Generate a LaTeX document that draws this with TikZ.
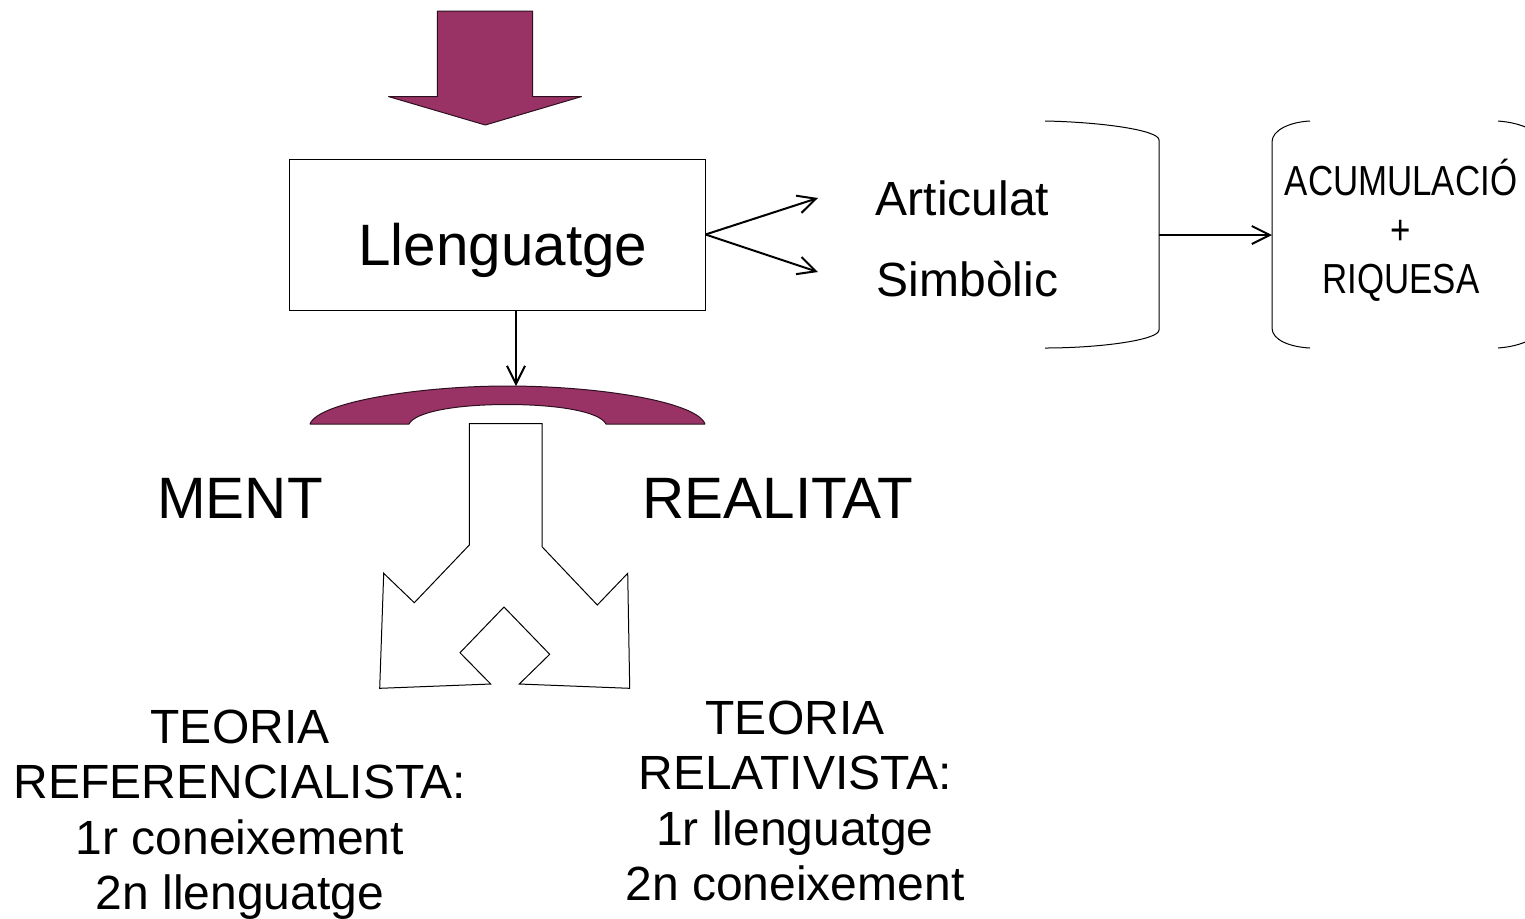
\documentclass[tikz,border=0pt]{standalone}
\usepackage{fontspec}
\setmainfont{Liberation Sans}
\newfontfamily\narrowfont[FakeStretch=0.83]{Liberation Sans}
\usepackage{xcolor}
\usetikzlibrary{arrows.meta}
\definecolor{plum}{HTML}{993366}

\begin{document}
\begin{tikzpicture}[x=0.5pt,y=-0.5pt,
                    line width=0.5pt,
                    main node/.style={align=center,inner sep=0pt,font=\fontsize{24}{27.75}\selectfont},
                    big node/.style={inner sep=0pt,font=\fontsize{29.2}{34}\selectfont},
                    narrow node/.style={align=center,inner sep=0pt,font=\narrowfont\fontsize{21}{24.5}\selectfont},
                    filled shape/.style={draw=black!70!plum,fill=plum,line join=bevel},
                    link/.style={-{Straight Barb[length=9pt,width=9pt]},line width=1pt}]

 \path[use as bounding box,clip] (0,0) rectangle (1525,918);

 % top arrow
 \draw[filled shape] (437.3,11) -- (532.7,11) -- (532.7,96.5) -- (581.7,96.5)
   -- (485.3,125) -- (388.3,96.5) -- (437.3,96.5) -- cycle;

 \node[draw,big node,minimum width=208pt,minimum height=75.5pt] (box) at (497,234.5) {\rule{0pt}{37pt}\hspace*{6pt}Llenguatge};

 \node[main node,anchor=base] (articulat) at (962.5,215) {Articulat};
 \node[main node,anchor=base] (simbolic) at (967.5,296) {Simbòlic};
 \coordinate (up) at (818,198);
 \coordinate (down) at (818,272);

 \path[link]
 (box.east) edge (up)
            edge (down);

 % brackets
 \coordinate (closeR) at (1159,235);
 \coordinate (openL) at (1272,235);
 \draw (1045,121) .. controls (1100,122) and (1159,130) .. (1159,140) -- (closeR)
   -- (1159,330) .. controls (1159,340) and (1100,348) .. (1045,348);
 \draw (1310,121) .. controls (1290,122) and (1272,130) .. (1272,142) -- (openL)
   -- (1272,328) .. controls (1272,340) and (1290,347) .. (1310,348);
 \draw (1498,121) .. controls (1510,122) and (1520,124) .. (1532,130);
 \draw (1498,348) .. controls (1510,347) and (1520,345) .. (1532,339);

 \draw[link] (closeR) -- (openL);

 \node[narrow node] (riquesa) at (1401,230) {ACUMULACIÓ\\+\\RIQUESA};

 % arc under the box
 \draw[filled shape] (310,424) .. controls (318,402) and (420,386) .. (507,386)
   .. controls (600,386) and (697,402) .. (705,424) -- (606,424)
   .. controls (600,412) and (560,404.5) .. (507,404.5)
   .. controls (455,404.5) and (415,412) .. (409,424) -- cycle;
 \coordinate (arctop) at (516,386);
 \draw[link] (box.south -| arctop) -- (arctop);

 \node[big node] (ment) at (240,498) {MENT};
 \node[big node] (realitat) at (778,498) {REALITAT};

 % forked arrow
 \draw (469.3,423.5) -- (542,423.5) -- (542,546.7) -- (597.3,605) -- (627.7,573.3)
   -- (629.7,688.3) -- (519.3,684) -- (549.7,654.3) -- (504,607) -- (460,652.7)
   -- (490.7,684) -- (379.7,688.3) -- (383.7,573.3) -- (414.3,602.7) -- (469.3,545) -- cycle;

 \node[main node] (referencial) at (240,814.5) {TEORIA\\REFERENCIALISTA:\\1r coneixement\\2n llenguatge};
 \node[main node] (relativista) at (795,801) {TEORIA\\RELATIVISTA:\\1r llenguatge\\2n coneixement};

\end{tikzpicture}
\end{document}
